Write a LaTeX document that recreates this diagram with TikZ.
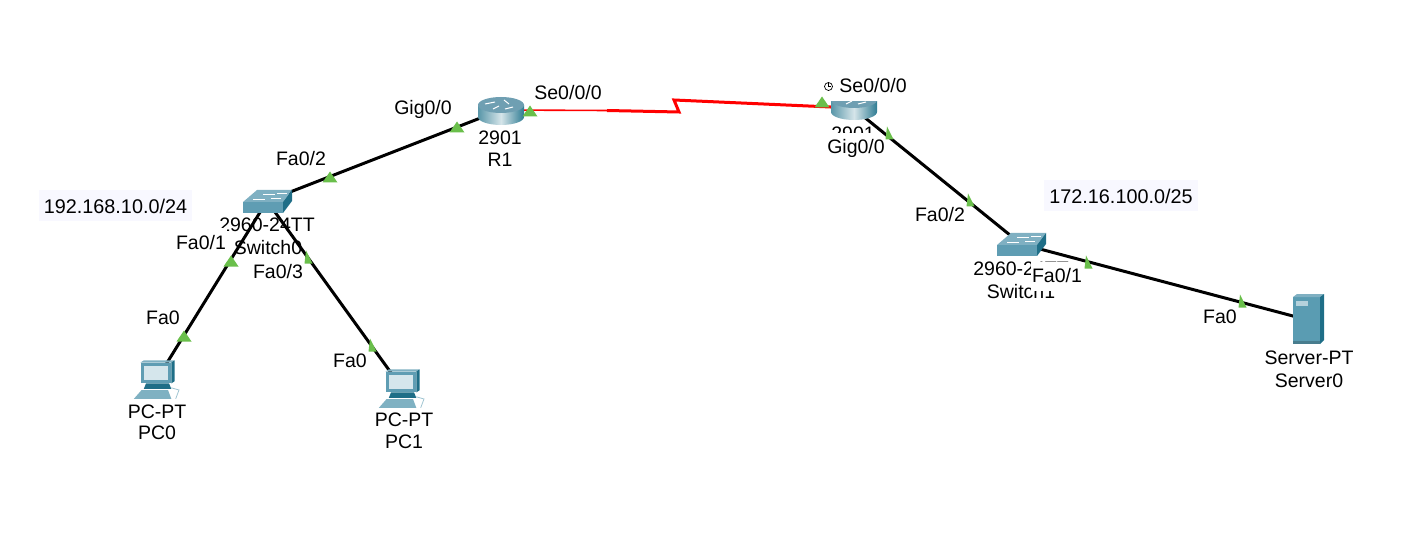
\documentclass[tikz,border=0pt]{standalone}
\usepackage{fontspec}
\setmainfont{Liberation Sans}
\definecolor{tri}{HTML}{6ABF4B}
\definecolor{sw}{HTML}{5F9DB3}
\definecolor{swtop}{HTML}{7FB0C2}
\definecolor{swside}{HTML}{1F6E87}
\definecolor{rt}{HTML}{6F9FB2}
\definecolor{rdark}{HTML}{2F7C93}
\definecolor{srv}{HTML}{5A9CB2}
\definecolor{notebg}{HTML}{F8F8FF}
\definecolor{screen}{HTML}{D5E6EC}
\tikzset{
  lbl/.style={font=\fontsize{19.5}{19.5}\selectfont,inner sep=0pt,text=black},
  port/.style={lbl,fill=white,inner xsep=1pt,minimum height=29pt},
  note/.style={lbl,font=\fontsize{19.8}{19.8}\selectfont,fill=notebg,inner xsep=5pt,minimum height=31pt},
  link/.style={draw=black,line width=3pt},
  serial/.style={draw=red,line width=3pt},
  serialthin/.style={draw=red,line width=1.6pt},
  anchorpt/.style={inner sep=0pt,minimum size=0pt},
}
\newcommand{\wtri}[2]{\fill[tri] (#1-7.5,#2+5.5) -- (#1,#2-5.5) -- (#1+7.5,#2+5.5) -- cycle;}
\newcommand{\ntri}[2]{\fill[tri] (#1-3.5,#2+6.5) -- (#1-2,#2-6.5) -- (#1+4.5,#2+6.5) -- cycle;}
\newcommand{\swicon}[2]{\begin{scope}[shift={(#1,#2)}]
  \fill[sw] (-24,1) rectangle (16,12);
  \fill[swtop] (-24,1) -- (-10,-11) -- (25,-11) -- (16,1) -- cycle;
  \fill[swside] (16,1) -- (25,-11) -- (25,0) -- (16,12) -- cycle;
  \draw[white,line width=.8pt] (-14,-2) -- (-2,-2) (-4,-7) -- (8,-7) (4,-3) -- (14,-3) (10,-8) -- (20,-8);
\end{scope}}
\newcommand{\rticon}[2]{\begin{scope}[shift={(#1,#2)}]
  \shade[left color=rdark!80!white,right color=rdark,middle color=white!80!rdark]
    (-23,-5) -- (-23,7) arc[start angle=180,end angle=0,x radius=23,y radius=8] -- (23,-5) -- cycle;
  \fill[rt] (0,-5) ellipse[x radius=23,y radius=8];
  \draw[white,line width=1pt] (-16,-6) -- (-6,-8) (3,-10) -- (8,-6) (4,-1) -- (12,-3) (-8,-1) -- (-2,-4);
\end{scope}}
\newcommand{\pcicon}[2]{\begin{scope}[shift={(#1,#2)},scale=1.1]
  \fill[sw] (-15,-15) rectangle (13,4);
  \fill[swtop] (-15,-15) -- (-12,-17) -- (16,-17) -- (13,-15) -- cycle;
  \fill[swside] (13,-15) -- (16,-17) -- (16,2) -- (13,4) -- cycle;
  \fill[screen] (-12,-12) rectangle (10,1);
  \fill[swside] (-10,4) -- (11,4) -- (13,9) -- (-12,9) -- cycle;
  \fill[sw!80!white] (-21,18) -- (-14,10) -- (10,10) -- (13,18) -- cycle;
  \draw[sw!60!white,line width=.8pt] (13,8) -- (20,10) -- (17,18);
\end{scope}}
\begin{document}
\begin{tikzpicture}[x=1pt,y=-1pt]
\useasboundingbox (0,0) rectangle (1423,537);
% device anchors
\node[anchorpt] (Sw0) at (267,201) {};
\node[anchorpt] (Sw1) at (1021,244) {};
\node[anchorpt] (R1) at (501,110) {};
\node[anchorpt] (R2) at (853,108) {};
\node[anchorpt] (PC0) at (157,379) {};
\node[anchorpt] (PC1) at (402,388) {};
\node[anchorpt] (Srv) at (1308,320) {};
\coordinate (zigT) at (607,110.5);
\coordinate (zigA) at (679,112);
\coordinate (zigB) at (674,100);
% device labels
\node[lbl] (l2960a) at (267,225) {2960-24TT};
\node[lbl] (lsw0) at (268,248) {Switch0};
\node[lbl] (l2901a) at (500,138) {2901};
\node[lbl] (lr1) at (500,160) {R1};
\node[lbl] (l2901b) at (853,134) {2901};
\node[lbl] (l2960b) at (1021,269) {2960-24TT};
\node[lbl] (lsw1) at (1021,292) {Switch1};
\node[lbl] (lpc0a) at (157,412) {PC-PT};
\node[lbl] (lpc0b) at (157,433) {PC0};
\node[lbl] (lpc1a) at (404,420) {PC-PT};
\node[lbl] (lpc1b) at (404,442) {PC1};
\node[lbl] (lsrva) at (1309,358) {Server-PT};
\node[lbl] (lsrvb) at (1309,381) {Server0};
% port labels that lie under the links
\node[port] (pGigA) at (423,109) {Gig0/0};
\node[port] (pFa2A) at (301,159) {Fa0/2};
\node[port] (pFa1A) at (201,243) {Fa0/1};
\node[port] (pFa3A) at (278,272) {Fa0/3};
\node[port] (pFa0A) at (163,318) {Fa0};
\node[port] (pFa0B) at (350,361) {Fa0};
\node[port] (pSeA) at (568,93) {Se0/0/0};
\node[port] (pGigB) at (856,148) {Gig0/0};
\node[port] (pFa2B) at (940,215) {Fa0/2};
\node[port] (pFa1B) at (1057,276) {Fa0/1};
\node[port] (pFa0C) at (1220,317) {Fa0};
% connectors
\draw[link] (Sw0.center) -- (R1.center);
\draw[link] (Sw0.center) -- (PC0.center);
\draw[link] (Sw0.center) -- (PC1.center);
\draw[link] (R2.center) -- (Sw1.center);
\draw[link] (Sw1.center) -- (Srv.center);
\draw[serialthin] (R1.center) -- (zigT);
\draw[serial,line join=miter] (zigT) -- (zigA) -- (zigB) -- (R2.center);
% icons
\swicon{267}{201}
\swicon{1021}{244}
\rticon{501}{110}
\rticon{854}{105}
\pcicon{157}{379}
\pcicon{402}{388}
\begin{scope}[shift={(1308,320)}]
  \fill[srv] (-15,-23) rectangle (12,24);
  \fill[swtop] (-15,-23) -- (-11,-26) -- (16,-26) -- (12,-23) -- cycle;
  \fill[swside] (12,-23) -- (16,-26) -- (16,20) -- (12,24) -- cycle;
  \fill[white!55!srv] (-12,-19) rectangle (0,-14);
  \fill[srv!80!black] (-15,21) rectangle (12,24);
\end{scope}
% label over the second router
\fill[white] (829,72) rectangle (910,101);
\node[lbl] (pSeB) at (873,86) {Se0/0/0};
\draw[black,line width=.7pt] (828.5,86.5) circle (4);
\draw[black,line width=.7pt] (828.5,83.5) -- (828.5,86.5) -- (831,86.5);
% notes
\node[note] (n1) at (115.5,206) {192.168.10.0/24};
\node[note] (n2) at (1121,196) {172.16.100.0/25};
% link-state triangles
\wtri{457}{127}
\wtri{330}{177}
\wtri{231}{261}
\wtri{184}{336}
\wtri{530}{111}
\wtri{822}{102}
\ntri{308}{257}
\ntri{372}{345}
\ntri{889}{133}
\ntri{970}{200}
\ntri{1088}{262}
\ntri{1242}{301}
\end{tikzpicture}
\end{document}
